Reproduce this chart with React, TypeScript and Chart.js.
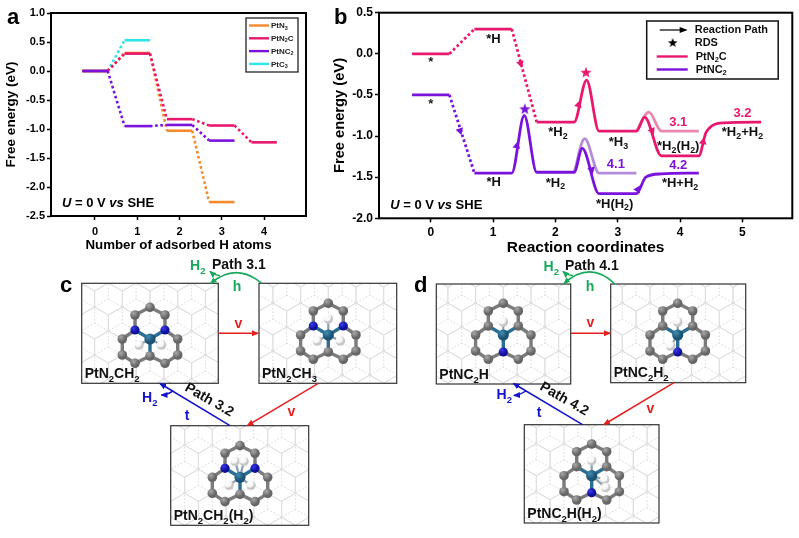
import React, { useEffect, useRef } from "react";
import { Chart, registerables } from "chart.js";

Chart.register(...registerables);

const FONT = '"Liberation Sans", Arial, sans-serif';
const PINK = "#e8186f";
const PURPLE = "#7a12dc";
const ORANGE = "#f58a2a";
const CYAN = "#2ce6ea";
const LIGHT_PINK = "#e987b0";
const LIGHT_PURPLE = "#b58cdc";

// ---------- Panel a ----------
const aTicksX = [0, 1, 2, 3, 4];
const aStepX = [-0.3, 0.3, 0.7, 1.3, 1.7, 2.3, 2.7, 3.3, 3.7, 4.3];
const aPtNC2 = [0, 0, -0.95, -0.95, -0.93, -0.93, -1.2, -1.2];
const aPtN2C = [0, 0, 0.3, 0.3, -0.83, -0.83, -0.94, -0.94, -1.23, -1.23];
const aPtN3 = [0, 0, 0.31, 0.31, -1.03, -1.03, -2.26, -2.26];
const aPtC3 = [0, 0, 0.53, 0.53];
const aLegendNames = ["PtN_3", "PtN_2C", "PtNC_2", "PtC_3"];
const aLegendColors = [ORANGE, PINK, PURPLE, CYAN];

// ---------- Panel b ----------
const bTicksX = [0, 1, 2, 3, 4, 5];
const bPinkX = [-0.3, 0.3, 0.5, 0.7, 1.3, 1.5, 1.7, 2.3, 2.5, 2.7, 3.3, 3.43, 3.7, 4.3, 4.42, 4.7, 5.3];
const bPinkY = [0, 0, null, 0.3, 0.3, null, -0.83, -0.83, -0.32, -0.94, -0.94, -0.77, -1.24, -1.24, -0.95, -0.84, -0.83];
const bPinkDotX = [0.3, 0.7, 1.0, 1.3, 1.7];
const bPinkDotY = [0, 0.3, null, 0.3, -0.83];
const bPinkAltX = [3.3, 3.5, 3.7, 4.3];
const bPinkAltY = [-0.94, -0.71, -0.94, -0.94];
const bPurpleX = [-0.3, 0.3, 0.5, 0.7, 1.3, 1.5, 1.7, 2.3, 2.43, 2.7, 3.3, 3.45, 3.7, 4.3];
const bPurpleY = [-0.5, -0.5, null, -1.45, -1.45, -0.75, -1.44, -1.44, -1.15, -1.7, -1.7, -1.5, -1.46, -1.45];
const bPurpleDotX = [0.3, 0.7];
const bPurpleDotY = [-0.5, -1.45];
const bPurpleAltX = [2.3, 2.47, 2.7, 3.3];
const bPurpleAltY = [-1.44, -1.03, -1.45, -1.45];
const bStars = [
  { x: 2.49, y: -0.23, c: PINK },
  { x: 1.51, y: -0.675, c: PURPLE },
];
const bPinkArrowX = [1.44, 2.37, 3.55, 4.37];
const bPinkArrowY = [-0.116, -0.62, -0.935, -1.07];
const bPinkArrowRot = [165, 15, 155, 10];
const bPurpleArrowX = [0.47, 1.38, 2.58, 3.32];
const bPurpleArrowY = [-0.935, -1.12, -1.41, -1.65];
const bPurpleArrowRot = [162, 10, 165, 30];
const bNotes = [
  { x: 0, y: -0.11, t: "*", c: "#222" },
  { x: 0, y: -0.61, t: "*", c: "#222" },
  { x: 1.005, y: 0.176, t: "*H", c: "#111" },
  { x: 2.04, y: -0.96, t: "*H_2", c: "#111" },
  { x: 3.01, y: -1.08, t: "*H_3", c: "#111" },
  { x: 3.97, y: -1.13, t: "*H_2(H_2)", c: "#111" },
  { x: 5.0, y: -0.96, t: "*H_2+H_2", c: "#111" },
  { x: 1.01, y: -1.56, t: "*H", c: "#111" },
  { x: 2.0, y: -1.57, t: "*H_2", c: "#111" },
  { x: 2.95, y: -1.83, t: "*H(H_2)", c: "#111" },
  { x: 4.0, y: -1.58, t: "*H+H_2", c: "#111" },
  { x: 3.97, y: -0.84, t: "3.1", c: PINK },
  { x: 5.0, y: -0.73, t: "3.2", c: PINK },
  { x: 2.97, y: -1.35, t: "4.1", c: PURPLE },
  { x: 3.97, y: -1.36, t: "4.2", c: PURPLE },
];

const zip = (xs: number[], ys: (number | null)[]) => ys.map((y, i) => ({ x: xs[i], y }));

// rich text: _x is a subscript char, ~text~ is italic
function parts(s: string) {
  const out: { t: string; sub?: boolean; it?: boolean }[] = [];
  let cur = "";
  let it = false;
  const flush = () => {
    if (cur) out.push({ t: cur, it });
    cur = "";
  };
  for (let i = 0; i < s.length; i++) {
    if (s[i] === "_") {
      flush();
      out.push({ t: s[++i], sub: true, it });
    } else if (s[i] === "~") {
      flush();
      it = !it;
    } else cur += s[i];
  }
  flush();
  return out;
}

function drawRich(ctx: CanvasRenderingContext2D, s: string, x: number, y: number, size: number, color: string, align: "left" | "center") {
  const ps = parts(s);
  const fontOf = (p: any) => `${p.it ? "italic " : ""}bold ${p.sub ? size * 0.68 : size}px ${FONT}`;
  let w = 0;
  for (const p of ps) {
    ctx.font = fontOf(p);
    w += ctx.measureText(p.t).width;
  }
  let cx = align === "center" ? x - w / 2 : x;
  ctx.fillStyle = color;
  ctx.textAlign = "left";
  ctx.textBaseline = "middle";
  for (const p of ps) {
    ctx.font = fontOf(p);
    ctx.fillText(p.t, cx, p.sub ? y + size * 0.27 : y);
    cx += ctx.measureText(p.t).width;
  }
}

function starImage(color: string, r: number) {
  const c = document.createElement("canvas");
  c.width = c.height = r * 2 + 2;
  const g = c.getContext("2d")!;
  g.fillStyle = color;
  g.beginPath();
  for (let i = 0; i < 10; i++) {
    const rr = i % 2 ? r * 0.42 : r;
    const a = -Math.PI / 2 + (i * Math.PI) / 5;
    g.lineTo(r + 1 + rr * Math.cos(a), r + 1 + rr * Math.sin(a));
  }
  g.closePath();
  g.fill();
  return c;
}

const boxPlugin = {
  id: "frameBox",
  afterDatasetsDraw(chart: any) {
    const { left, top, width, height } = chart.chartArea;
    const ctx = chart.ctx;
    ctx.save();
    ctx.strokeStyle = "#000";
    ctx.lineWidth = 2;
    ctx.strokeRect(left, top, width, height);
    ctx.restore();
  },
};

function axes(o: any) {
  const tick = { display: true, drawOnChartArea: false, drawTicks: true, tickLength: 4, tickWidth: 1.5, tickColor: "#000" };
  return {
    x: {
      type: "linear",
      min: o.xMin,
      max: o.xMax,
      border: { display: false },
      grid: tick,
      afterBuildTicks: (s: any) => {
        s.ticks = o.ticksX.map((v: number) => ({ value: v }));
      },
      afterFit: (s: any) => {
        s.height = o.xH;
      },
      ticks: { color: "#000", font: { family: FONT, weight: "bold", size: o.tickSize }, padding: o.xTickPad, maxRotation: 0, callback: (v: number) => String(v) },
      title: { display: true, text: o.xTitle, color: "#000", font: { family: FONT, weight: "bold", size: o.xTitleSize }, padding: { top: 0, bottom: o.xTitlePad } },
    },
    y: {
      type: "linear",
      min: o.yMin,
      max: o.yMax,
      border: { display: false },
      grid: tick,
      afterFit: (s: any) => {
        s.width = o.yW;
      },
      ticks: { stepSize: 0.5, color: "#000", font: { family: FONT, weight: "bold", size: o.tickSize }, padding: 2, callback: (v: number) => v.toFixed(1) },
      title: { display: true, text: "Free energy (eV)", color: "#000", font: { family: FONT, weight: "bold", size: o.yTitleSize }, padding: { top: o.yTitlePad, bottom: 0 } },
    },
  };
}

const stepLine = (name: string, color: string, ys: number[]) => ({
  label: name,
  data: zip(aStepX, ys),
  borderColor: color,
  borderWidth: 2.6,
  pointRadius: 0,
  segment: { borderDash: (c: any) => (c.p0DataIndex % 2 ? [2.6, 2.6] : undefined) },
});

function makeA(canvas: HTMLCanvasElement) {
  const notes = {
    id: "aNotes",
    afterDatasetsDraw(chart: any) {
      const ctx = chart.ctx;
      const { x, y } = chart.scales;
      ctx.save();
      drawRich(ctx, "~U~ = 0 V ~vs~ SHE", x.getPixelForValue(-0.78), y.getPixelForValue(-2.29), 13, "#000", "left");
      // legend
      const L = 246, T = 18, W = 52, H = 54;
      ctx.fillStyle = "#fff";
      ctx.fillRect(L, T, W, H);
      ctx.strokeStyle = "#111";
      ctx.lineWidth = 1.2;
      ctx.strokeRect(L, T, W, H);
      aLegendNames.forEach((n, i) => {
        const ly = T + 7.5 + i * 12.8;
        ctx.strokeStyle = aLegendColors[i];
        ctx.lineWidth = 2.4;
        ctx.beginPath();
        ctx.moveTo(L + 3, ly);
        ctx.lineTo(L + 23, ly);
        ctx.stroke();
        drawRich(ctx, n, L + 25, ly + 0.5, 8, "#222", "left");
      });
      ctx.restore();
    },
  };
  return new Chart(canvas, {
    type: "line",
    plugins: [boxPlugin, notes],
    data: {
      datasets: [
        stepLine("PtNC2", PURPLE, aPtNC2),
        stepLine("PtN2C", PINK, aPtN2C),
        stepLine("PtN3", ORANGE, aPtN3),
        stepLine("PtC3", CYAN, aPtC3),
      ],
    },
    options: {
      animation: false,
      responsive: false,
      layout: { autoPadding: false, padding: { left: 0, top: 13, right: 14, bottom: 0 } },
      plugins: { legend: { display: false }, tooltip: { enabled: false } },
      scales: axes({
        xMin: -1.04, xMax: 4.99, yMin: -2.5, yMax: 1, ticksX: aTicksX, xH: 46, yW: 51, tickSize: 11,
        xTickPad: 5, xTitle: "Number of adsorbed H atoms", xTitleSize: 13.3, xTitlePad: 9, yTitleSize: 13.5, yTitlePad: 3,
      }),
    } as any,
  } as any);
}

function makeB(canvas: HTMLCanvasElement) {
  const line = (name: string, xs: number[], ys: (number | null)[], color: string, curved: boolean, dotted: boolean) => ({
    label: name,
    data: zip(xs, ys),
    borderColor: color,
    borderWidth: 2.8,
    pointRadius: 0,
    spanGaps: false,
    cubicInterpolationMode: curved ? "monotone" : "default",
    borderDash: dotted ? [2.6, 2.6] : undefined,
  });
  const arrows = (name: string, xs: number[], ys: number[], rot: number[], color: string) => ({
    label: name,
    data: zip(xs, ys),
    showLine: false,
    pointStyle: "triangle",
    pointRadius: 4.5,
    pointRotation: rot,
    pointBackgroundColor: color,
    pointBorderColor: color,
    pointBorderWidth: 0,
  });
  const stars = bStars.map((s) => ({
    label: "RDS",
    data: [{ x: s.x, y: s.y }],
    showLine: false,
    pointStyle: starImage(s.c, 6),
    pointRadius: 6,
  }));
  const blackStar = starImage("#000", 5);
  const notes = {
    id: "bNotes",
    afterDatasetsDraw(chart: any) {
      const ctx = chart.ctx;
      const { x, y } = chart.scales;
      ctx.save();
      bNotes.forEach((n) => {
        drawRich(ctx, n.t, x.getPixelForValue(n.x), y.getPixelForValue(n.y), 13, n.c, "center");
      });
      drawRich(ctx, "~U~ = 0 V ~vs~ SHE", x.getPixelForValue(-0.65), y.getPixelForValue(-1.84), 13, "#000", "left");
      const L = 326.7, T = 21, W = 131.5, H = 58;
      ctx.fillStyle = "#fff";
      ctx.fillRect(L, T, W, H);
      ctx.strokeStyle = "#111";
      ctx.lineWidth = 1.5;
      ctx.strokeRect(L, T, W, H);
      // arrow
      ctx.strokeStyle = "#000";
      ctx.fillStyle = "#000";
      ctx.lineWidth = 1.2;
      ctx.beginPath();
      ctx.moveTo(L + 13, 30);
      ctx.lineTo(L + 35, 30);
      ctx.stroke();
      ctx.beginPath();
      ctx.moveTo(L + 41, 30);
      ctx.lineTo(L + 33, 27);
      ctx.lineTo(L + 33, 33);
      ctx.closePath();
      ctx.fill();
      ctx.drawImage(blackStar, L + 20, 37);
      [{ c: PINK, y: 56.5, t: "PtN_2C" }, { c: PURPLE, y: 69.5, t: "PtNC_2" }].forEach((e) => {
        ctx.strokeStyle = e.c;
        ctx.lineWidth = 2.4;
        ctx.beginPath();
        ctx.moveTo(L + 10, e.y);
        ctx.lineTo(L + 41, e.y);
        ctx.stroke();
        drawRich(ctx, e.t, L + 49, e.y, 11, "#111", "left");
      });
      drawRich(ctx, "Reaction Path", L + 48, 30, 11, "#111", "left");
      drawRich(ctx, "RDS", L + 48, 42.5, 11, "#111", "left");
      ctx.restore();
    },
  };
  return new Chart(canvas, {
    type: "line",
    plugins: [boxPlugin, notes],
    data: {
      datasets: [
        ...stars,
        arrows("arrows", bPinkArrowX, bPinkArrowY, bPinkArrowRot, PINK),
        arrows("arrows", bPurpleArrowX, bPurpleArrowY, bPurpleArrowRot, PURPLE),
        line("PtN2C", bPinkX, bPinkY, PINK, true, false),
        line("PtN2C dotted", bPinkDotX, bPinkDotY, PINK, false, true),
        line("PtNC2", bPurpleX, bPurpleY, PURPLE, true, false),
        line("PtNC2 dotted", bPurpleDotX, bPurpleDotY, PURPLE, false, true),
        line("PtN2C alt", bPinkAltX, bPinkAltY, LIGHT_PINK, true, false),
        line("PtNC2 alt", bPurpleAltX, bPurpleAltY, LIGHT_PURPLE, true, false),
      ],
    },
    options: {
      animation: false,
      responsive: false,
      layout: { autoPadding: false, padding: { left: 0, top: 12.7, right: 6.7, bottom: 0 } },
      plugins: { legend: { display: false }, tooltip: { enabled: false } },
      scales: axes({
        xMin: -0.83, xMax: 5.8, yMin: -2, yMax: 0.5, ticksX: bTicksX, xH: 41.7, yW: 59, tickSize: 12,
        xTickPad: 3.5, xTitle: "Reaction coordinates", xTitleSize: 15.5, xTitlePad: 3, yTitleSize: 14.7, yTitlePad: 11,
      }),
    } as any,
  } as any);
}

// ---------- Panels c, d (schematics) ----------
const GREEN = "#17a85a";
const RED = "#e5201f";
const BLUE = "#1414c8";

const ringNodes: Record<string, [number, number]> = {
  T0: [0, -31.7], TL: [-15, -24], TR: [15, -24], NL: [-15, -9], NR: [15, -9],
  Pt: [0, 0], L1: [-27.7, 0], R1: [27.7, 0], L2: [-27.7, 16], R2: [27.7, 16],
  L3: [-15, 24.3], R3: [15, 24.3], B: [0, 17],
};
const ringBonds = [
  ["T0", "TL"], ["T0", "TR"], ["TL", "NL"], ["TR", "NR"], ["NL", "Pt"], ["NR", "Pt"],
  ["NL", "L1"], ["NR", "R1"], ["L1", "L2"], ["R1", "R2"], ["L2", "L3"], ["R2", "R3"],
  ["L3", "B"], ["R3", "B"], ["B", "Pt"],
];

type Mol = { box: number[]; pt: number[]; nitro: string[]; h: number[][]; label: string };
const cMols: Mol[] = [
  { box: [81.7, 283.3, 218.3, 383.3], pt: [150, 339], nitro: ["NL", "NR"], h: [[-11, 6], [11.5, 6]], label: "PtN_2CH_2" },
  { box: [259, 283.3, 396.7, 383.3], pt: [328.3, 335], nitro: ["NL", "NR"], h: [[0, -16], [-11, 6], [12, 6]], label: "PtN_2CH_3" },
  { box: [170.7, 425.7, 308.7, 525.3], pt: [240, 477.3], nitro: ["NL", "NR"], h: [[-5, -16], [4, -16], [-11, 8], [11, 8]], label: "PtN_2CH_2(H_2)" },
];
const dMols: Mol[] = [
  { box: [436.3, 284, 570.7, 384], pt: [503.3, 335], nitro: ["B"], h: [[0, -13]], label: "PtNC_2H" },
  { box: [610.7, 284, 745.7, 382.7], pt: [677.7, 335], nitro: ["B"], h: [[0, -13], [-7, 11]], label: "PtNC_2H_2" },
  { box: [524.3, 424.7, 659, 523], pt: [591.7, 475.7], nitro: ["B"], h: [[0, -15], [13, 4], [14, 12]], label: "PtNC_2H(H_2)" },
];

function Rich({ s, x, y, size = 14, fill = "#111", rotate, anchor = "start" }: any) {
  return (
    <text x={x} y={y} fontSize={size} fontWeight="bold" fontFamily={FONT} fill={fill} textAnchor={anchor} transform={rotate ? `rotate(${rotate} ${x} ${y})` : undefined}>
      {parts(s).map((p, i, arr) => {
        const prev = arr[i - 1];
        const dy = p.sub ? size * 0.3 : prev && prev.sub ? -size * 0.3 : 0;
        return (
          <tspan key={i} dy={dy} fontSize={p.sub ? size * 0.68 : size}>
            {p.t}
          </tspan>
        );
      })}
    </text>
  );
}

function hexPath(box: number[], pt: number[], dx: number, dy: number) {
  const s = 16;
  const w = s * Math.sqrt(3);
  let d = "";
  for (let r = -6; r <= 6; r++) {
    for (let q = -6; q <= 6; q++) {
      const cx = pt[0] + dx + q * w + (r % 2 ? w / 2 : 0);
      const cy = pt[1] + dy - s + r * 1.5 * s;
      if (cx < box[0] - w || cx > box[2] + w || cy < box[1] - 2 * s || cy > box[3] + 2 * s) continue;
      const v = [0, 1, 2, 3, 4, 5].map((k) => {
        const a = (Math.PI / 3) * k - Math.PI / 2;
        return `${(cx + s * Math.cos(a)).toFixed(1)} ${(cy + s * Math.sin(a)).toFixed(1)}`;
      });
      d += `M${v.join("L")}Z`;
    }
  }
  return d;
}

function Molecule({ m, id }: { m: Mol; id: string }) {
  const [x0, y0, x1, y1] = m.box;
  const P = (n: string) => [m.pt[0] + ringNodes[n][0], m.pt[1] + ringNodes[n][1]];
  return (
    <g>
      <clipPath id={id}>
        <rect x={x0} y={y0} width={x1 - x0} height={y1 - y0} />
      </clipPath>
      <rect x={x0} y={y0} width={x1 - x0} height={y1 - y0} fill="#fff" />
      <g clipPath={`url(#${id})`} fill="none">
        <path d={hexPath(m.box, m.pt, 0, 0)} stroke="#dadada" strokeWidth={0.8} />
        <path d={hexPath(m.box, m.pt, 0, 16)} stroke="#d6d6d6" strokeWidth={0.6} strokeDasharray="1.5 2" />
      </g>
      {ringBonds.map(([a, b], i) => {
        const A = P(a), B = P(b);
        const metal = a === "Pt" || b === "Pt";
        return <line key={i} x1={A[0]} y1={A[1]} x2={B[0]} y2={B[1]} stroke={metal ? "#2a6f93" : "#7b7b7b"} strokeWidth={3.4} />;
      })}
      {m.h.map((h, i) => (
        <line key={i} x1={m.pt[0]} y1={m.pt[1]} x2={m.pt[0] + h[0]} y2={m.pt[1] + h[1]} stroke="#8aa0ab" strokeWidth={2.2} />
      ))}
      {Object.keys(ringNodes).filter((n) => n !== "Pt").map((n) => {
        const p = P(n);
        const isN = m.nitro.includes(n);
        return <circle key={n} cx={p[0]} cy={p[1]} r={isN ? 4.6 : 4.8} fill={isN ? "url(#gN)" : "url(#gC)"} />;
      })}
      <circle cx={m.pt[0]} cy={m.pt[1]} r={5.6} fill="url(#gPt)" />
      {m.h.map((h, i) => (
        <circle key={i} cx={m.pt[0] + h[0]} cy={m.pt[1] + h[1]} r={4.8} fill="url(#gH)" />
      ))}
      <rect x={x0} y={y0} width={x1 - x0} height={y1 - y0} fill="none" stroke="#333" strokeWidth={1.2} />
      <Rich s={m.label} x={x0 + 3} y={y1 - 5.5} />
    </g>
  );
}

function Arrow({ d, color, head = "url(#hR)" }: any) {
  return <path d={d} fill="none" stroke={color} strokeWidth={1.5} markerEnd={head} />;
}

function Diagrams() {
  return (
    <svg width={799} height={538} style={{ position: "absolute", left: 0, top: 0, pointerEvents: "none" }}>
      <defs>
        <radialGradient id="gC" cx="35%" cy="30%"><stop offset="0%" stopColor="#a8a8a8" /><stop offset="100%" stopColor="#666" /></radialGradient>
        <radialGradient id="gN" cx="35%" cy="30%"><stop offset="0%" stopColor="#3a3aee" /><stop offset="100%" stopColor="#10109a" /></radialGradient>
        <radialGradient id="gPt" cx="35%" cy="30%"><stop offset="0%" stopColor="#3f8fb3" /><stop offset="100%" stopColor="#1c5273" /></radialGradient>
        <radialGradient id="gH" cx="35%" cy="30%"><stop offset="0%" stopColor="#ffffff" /><stop offset="75%" stopColor="#f4f4f4" /><stop offset="100%" stopColor="#c8c8c8" /></radialGradient>
        {[["hR", RED], ["hG", GREEN], ["hB", BLUE]].map(([id, c]) => (
          <marker key={id} id={id} markerWidth={7} markerHeight={6} refX={6} refY={3} orient="auto" markerUnits="userSpaceOnUse">
            <path d="M0 0L7 3L0 6Z" fill={c} />
          </marker>
        ))}
      </defs>
      <text x={7} y={24} fontSize={22} fontWeight="bold" fontFamily={FONT} fill="#000">a</text>
      <text x={334} y={24} fontSize={22} fontWeight="bold" fontFamily={FONT} fill="#000">b</text>
      <text x={60} y={292} fontSize={22} fontWeight="bold" fontFamily={FONT} fill="#000">c</text>
      <text x={414} y={292} fontSize={22} fontWeight="bold" fontFamily={FONT} fill="#000">d</text>

      {cMols.map((m, i) => <Molecule key={i} m={m} id={`cc${i}`} />)}
      {dMols.map((m, i) => <Molecule key={i} m={m} id={`dd${i}`} />)}

      {/* c arrows */}
      <Arrow d="M261.7 283.3Q236 262 210.7 283.3" color={GREEN} head="url(#hG)" />
      <Arrow d="M220 275.7Q214 275 210 271.5" color={GREEN} head="url(#hG)" />
      <Arrow d="M218.3 333.3L258 333.3" color={RED} />
      <Arrow d="M318.3 383.3L247.5 425.5" color={RED} />
      <Arrow d="M230 425.7L160 383.5" color={BLUE} head="url(#hB)" />
      <Arrow d="M173.3 390.7Q168 395 161.5 395" color={BLUE} head="url(#hB)" />
      <Rich s="H_2" x={190} y={270} fill={GREEN} />
      <Rich s="Path 3.1" x={212} y={269} />
      <Rich s="h" x={237} y={291} fill={GREEN} anchor="middle" />
      <Rich s="v" x={238.5} y={328} fill={RED} anchor="middle" />
      <Rich s="v" x={291.5} y={416} fill={RED} anchor="middle" />
      <Rich s="H_2" x={142} y={402} fill={BLUE} />
      <Rich s="t" x={187} y={420} fill={BLUE} anchor="middle" />
      <Rich s="Path 3.2" x={184} y={390} rotate={30} />

      {/* d arrows */}
      <Arrow d="M615 284Q590 260 564 283.5" color={GREEN} head="url(#hG)" />
      <Arrow d="M573 275.5Q567 275 563 271.5" color={GREEN} head="url(#hG)" />
      <Arrow d="M571 333.3L610 333.3" color={RED} />
      <Arrow d="M674 382.7L604 424.5" color={RED} />
      <Arrow d="M582.5 424.7L513.5 383.5" color={BLUE} head="url(#hB)" />
      <Arrow d="M526 391Q520 395 514 395.5" color={BLUE} head="url(#hB)" />
      <Rich s="H_2" x={543.5} y={271} fill={GREEN} />
      <Rich s="Path 4.1" x={565} y={269.5} />
      <Rich s="h" x={590} y={291} fill={GREEN} anchor="middle" />
      <Rich s="v" x={590.5} y={327} fill={RED} anchor="middle" />
      <Rich s="v" x={650.5} y={413} fill={RED} anchor="middle" />
      <Rich s="H_2" x={496.5} y={399} fill={BLUE} />
      <Rich s="t" x={539} y={417} fill={BLUE} anchor="middle" />
      <Rich s="Path 4.2" x={539} y={389} rotate={30} />
    </svg>
  );
}

export default function App() {
  const aRef = useRef<HTMLCanvasElement | null>(null);
  const bRef = useRef<HTMLCanvasElement | null>(null);
  useEffect(() => {
    const a = makeA(aRef.current!);
    const b = makeB(bRef.current!);
    return () => {
      a.destroy();
      b.destroy();
    };
  }, []);
  return (
    <div style={{ position: "fixed", left: 0, top: 0, width: 799, height: 538, background: "#fff", overflow: "hidden", filter: "blur(0.4px)" }}>
      <canvas ref={aRef} width={320} height={262} style={{ position: "absolute", left: 0, top: 0 }} />
      <canvas ref={bRef} width={479} height={260} style={{ position: "absolute", left: 320, top: 0 }} />
      <Diagrams />
    </div>
  );
}
